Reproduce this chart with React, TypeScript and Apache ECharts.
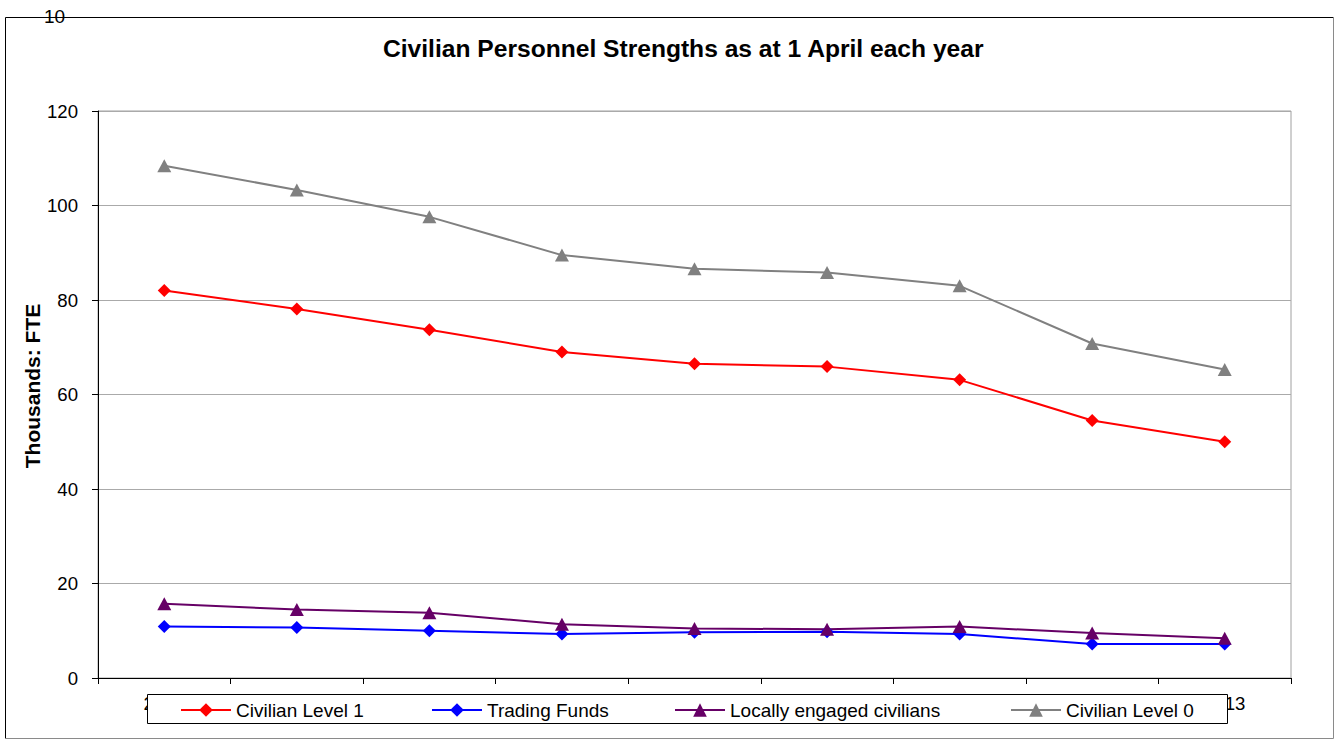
import React, { useEffect, useRef } from "react";
import * as echarts from "echarts";

const years = ["2005", "2006", "2007", "2008", "2009", "2010", "2011", "2012", "2013"];
const civilianLevel1 = [82.0, 78.1, 73.7, 69.0, 66.5, 65.9, 63.1, 54.5, 50.0];
const tradingFunds = [10.9, 10.7, 10.0, 9.3, 9.7, 9.8, 9.3, 7.2, 7.2];
const locallyEngaged = [15.7, 14.5, 13.8, 11.4, 10.5, 10.3, 10.9, 9.5, 8.4];
const civilianLevel0 = [108.4, 103.3, 97.6, 89.5, 86.6, 85.8, 83.0, 70.8, 65.3];

const seriesNames = ["Civilian Level 1", "Trading Funds", "Locally engaged civilians", "Civilian Level 0"];
const FONT = 'Arial, "Liberation Sans", sans-serif';

export default function App() {
  const ref = useRef<HTMLDivElement>(null);
  useEffect(() => {
    if (!ref.current) return;
    const chart = echarts.init(ref.current, undefined, { renderer: "svg" });
    const mkLegend = (name: string, left: number) => ({
      data: [name],
      left,
      top: 700.5,
      padding: 0,
      itemGap: 0,
      itemWidth: 50,
      itemHeight: 17,
      selectedMode: false,
      z: 100,
      textStyle: { fontSize: 19, color: "#000", fontFamily: FONT },
    });
    const option: any = {
      animation: false,
      backgroundColor: "#fff",
      textStyle: { fontFamily: FONT },
      title: {
        text: "Civilian Personnel Strengths as at 1 April each year",
        left: 383,
        top: 36,
        padding: 0,
        textStyle: { fontSize: 24.6, fontWeight: "bold", color: "#000", fontFamily: FONT },
      },
      grid: {
        left: 98,
        top: 111,
        right: 47,
        bottom: 62,
        show: true,
        borderColor: "#a0a0a0",
        borderWidth: 1,
        containLabel: false,
      },
      legend: [
        mkLegend(seriesNames[0], 180),
        mkLegend(seriesNames[1], 431),
        mkLegend(seriesNames[2], 674),
        mkLegend(seriesNames[3], 1010),
      ],
      xAxis: {
        type: "category",
        data: years,
        boundaryGap: true,
        axisLine: { show: true, lineStyle: { color: "#000", width: 1 } },
        axisTick: { show: true, length: 6, lineStyle: { color: "#000" } },
        axisLabel: { fontSize: 18.6, color: "#000", margin: 16, fontFamily: FONT },
        splitLine: { show: false },
      },
      yAxis: {
        type: "value",
        min: 0,
        max: 120,
        interval: 20,
        axisLine: { show: true, lineStyle: { color: "#000", width: 1 } },
        axisTick: { show: true, length: 6, lineStyle: { color: "#000" } },
        axisLabel: { fontSize: 18.6, color: "#000", margin: 20, fontFamily: FONT },
        splitLine: { show: true, lineStyle: { color: "#aaaaaa", width: 1 } },
      },
      series: [
        {
          name: seriesNames[0],
          type: "line",
          data: civilianLevel1,
          symbol: "diamond",
          symbolSize: 13,
          color: "#ff0000",
          lineStyle: { color: "#ff0000", width: 2 },
          itemStyle: { color: "#ff0000" },
        },
        {
          name: seriesNames[1],
          type: "line",
          data: tradingFunds,
          symbol: "diamond",
          symbolSize: 13,
          color: "#0000ff",
          lineStyle: { color: "#0000ff", width: 2 },
          itemStyle: { color: "#0000ff" },
        },
        {
          name: seriesNames[2],
          type: "line",
          data: locallyEngaged,
          symbol: "triangle",
          symbolSize: [14, 13],
          color: "#660066",
          lineStyle: { color: "#660066", width: 2 },
          itemStyle: { color: "#660066" },
        },
        {
          name: seriesNames[3],
          type: "line",
          data: civilianLevel0,
          symbol: "triangle",
          symbolSize: [14, 13],
          color: "#808080",
          lineStyle: { color: "#808080", width: 2 },
          itemStyle: { color: "#808080" },
        },
      ],
      graphic: [
        {
          type: "polyline",
          z: 80,
          shape: { points: [[5.5, 738.5], [5.5, 17.5], [1333.5, 17.5]] },
          style: { stroke: "#000", lineWidth: 1, fill: null },
        },
        {
          type: "polyline",
          z: 80,
          shape: { points: [[1333.5, 17.5], [1333.5, 738.5], [5.5, 738.5]] },
          style: { stroke: "#8a8a8a", lineWidth: 1, fill: null },
        },
        {
          type: "text",
          z: 85,
          x: 44,
          y: 16,
          style: { text: "10", fontSize: 19, fill: "#000", fontFamily: FONT, textVerticalAlign: "middle" },
        },
        {
          type: "text",
          z: 85,
          x: 32,
          y: 386,
          rotation: Math.PI / 2,
          style: {
            text: "Thousands: FTE",
            fontSize: 21,
            fontWeight: "bold",
            fill: "#000",
            fontFamily: FONT,
            textAlign: "center",
            textVerticalAlign: "middle",
          },
        },
        {
          type: "rect",
          z: 90,
          shape: { x: 147.5, y: 694.5, width: 1080, height: 29 },
          style: { fill: "#fff", stroke: "#000", lineWidth: 1 },
        },
      ],
    };
    chart.setOption(option);
    return () => chart.dispose();
  }, []);
  return (
    <div
      ref={ref}
      style={{ position: "absolute", left: 0, top: 0, width: 1338, height: 740 }}
    />
  );
}
